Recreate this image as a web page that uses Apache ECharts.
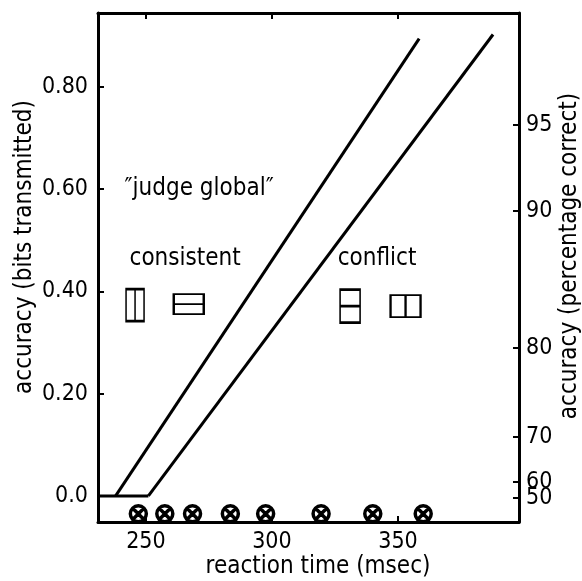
<!DOCTYPE html>
<html>
<head>
<meta charset="utf-8">
<title>judge global</title>
<script src="https://cdn.jsdelivr.net/npm/echarts@6/dist/echarts.min.js"></script>
<style>
  html, body { margin: 0; padding: 0; background: #fff; }
  #chart { width: 582px; height: 581px; }
</style>
</head>
<body>
<div id="chart"></div>
<script>
// reaction time (msec) against accuracy (bits transmitted)
const xTicks = [250, 300, 350]
const leftTickValues = [0, 0.2, 0.4, 0.6, 0.8]
const leftTickLabels = ['0.0', '0.20', '0.40', '0.60', '0.80']
// right axis: percentage correct, sitting at its bits value
const rightTickValues = [-0.004, 0.027, 0.115, 0.289, 0.557, 0.725]
const rightTickLabels = ['50', '60', '70', '80', '90', '95']

const floorLine = [[231, 0], [251, 0]]
const fastLine = [[238, 0], [358.4, 0.894]]
const slowLine = [[251, 0], [387.7, 0.902]]

// condition boxes: consistent (2), conflict (2)
const boxX = [245.7, 267.0, 331.0, 353.0]
const boxY = [0.373, 0.375, 0.371, 0.371]

const dotX = [247, 257.5, 268.5, 283.5, 297.5, 319.5, 340, 360]
const dotY = [-0.035, -0.035, -0.035, -0.035, -0.035, -0.035, -0.035, -0.035]

const noteX = [241.3, 243.3, 325.9]
const noteY = [0.600, 0.463, 0.463]
const noteText = ['\u2033judge global\u2033', 'consistent', 'conflict']

const X_MIN = 231
const X_MAX = 398
const Y_MIN = -0.051
const Y_MAX = 0.944

const FONT = 'DejaVu Sans Condensed'
const INK = '#000'

function boxSymbols() {
  return [
    { symbol: 'path://M0,0H18V32H0Z M9,0V32', size: [18, 32] },
    { symbol: 'path://M0,0H30V20H0Z M0,10H30', size: [30, 20] },
    { symbol: 'path://M0,0H20V33H0Z M0,16.5H20', size: [20, 33] },
    { symbol: 'path://M0,0H30V22H0Z M15,0V22', size: [30, 22] }
  ]
}

function labelFrom(values, labels) {
  return function(v) {
    const i = values.indexOf(v)
    return i >= 0 ? labels[i] : ''
  }
}

// 50 and 60 sit almost on top of each other; echarts drops one of the
// two end labels when they touch, so keep 50 away from the ends of the list
function rightLabelOrder() {
  const v = rightTickValues.slice()
  const first = v.shift()
  v.splice(2, 0, first)
  return v
}

function getOptions() {
  const shapes = boxSymbols()
  const tickLine = { show: true, inside: true, length: 6, lineStyle: { color: INK, width: 2 } }
  const axisLine = { show: true, onZero: false, lineStyle: { color: INK, width: 3 } }
  const tickText = {
    fontSize: 23,
    color: INK,
    fontFamily: FONT,
    hideOverlap: false
  }
  const titleFont = '24px "' + FONT + '"'
  return {
    animation: false,
    backgroundColor: '#fff',
    textStyle: { fontFamily: FONT, color: INK },
    grid: { left: 98, right: 63, top: 13, bottom: 59, containLabel: false, outerBoundsMode: 'none' },
    xAxis: [{
      type: 'value',
      min: X_MIN,
      max: X_MAX,
      position: 'bottom',
      axisLine: axisLine,
      axisTick: Object.assign({ customValues: xTicks }, tickLine),
      axisLabel: Object.assign({ customValues: xTicks, margin: 9 }, tickText),
      splitLine: { show: false }
    }, {
      type: 'value',
      min: X_MIN,
      max: X_MAX,
      position: 'top',
      axisLine: axisLine,
      axisTick: Object.assign({ customValues: xTicks }, tickLine),
      axisLabel: { show: false },
      splitLine: { show: false }
    }],
    yAxis: [{
      type: 'value',
      min: Y_MIN,
      max: Y_MAX,
      position: 'left',
      axisLine: axisLine,
      axisTick: Object.assign({ customValues: leftTickValues }, tickLine),
      axisLabel: Object.assign({
        customValues: leftTickValues,
        margin: 10,
        showMinLabel: true,
        showMaxLabel: true,
        formatter: labelFrom(leftTickValues, leftTickLabels)
      }, tickText),
      splitLine: { show: false }
    }, {
      type: 'value',
      min: Y_MIN,
      max: Y_MAX,
      position: 'right',
      axisLine: axisLine,
      axisTick: Object.assign({ customValues: rightTickValues }, tickLine),
      axisLabel: Object.assign({
        customValues: rightLabelOrder(),
        margin: 7,
        showMinLabel: true,
        showMaxLabel: true,
        formatter: labelFrom(rightTickValues, rightTickLabels)
      }, tickText),
      splitLine: { show: false }
    }],
    graphic: [
      {
        type: 'text',
        x: 25,
        y: 247,
        rotation: Math.PI / 2,
        style: { text: 'accuracy (bits transmitted)', font: titleFont, fill: INK, align: 'center', verticalAlign: 'middle' }
      },
      {
        type: 'text',
        x: 570,
        y: 256,
        rotation: Math.PI / 2,
        style: { text: 'accuracy (percentage correct)', font: titleFont, fill: INK, align: 'center', verticalAlign: 'middle' }
      },
      {
        type: 'text',
        x: 318,
        y: 567,
        style: { text: 'reaction time (msec)', font: titleFont, fill: INK, align: 'center', verticalAlign: 'middle' }
      }
    ],
    series: [
      {
        type: 'line',
        data: floorLine,
        symbol: 'none',
        lineStyle: { color: INK, width: 3 }
      },
      {
        type: 'line',
        data: fastLine,
        symbol: 'none',
        lineStyle: { color: INK, width: 3 }
      },
      {
        type: 'line',
        data: slowLine,
        symbol: 'none',
        lineStyle: { color: INK, width: 3 }
      },
      {
        type: 'scatter',
        data: boxX.map((x, i) => ({
          value: [x, boxY[i]],
          symbol: shapes[i].symbol,
          symbolSize: shapes[i].size
        })),
        itemStyle: { color: 'rgba(0,0,0,0)', borderColor: INK, borderWidth: 2, opacity: 1 }
      },
      {
        type: 'scatter',
        data: dotX.map((x, i) => [x, dotY[i]]),
        symbol: 'path://M20,10A10,10,0,1,1,0,10A10,10,0,1,1,20,10Z M3,3L17,17 M17,3L3,17',
        symbolSize: 16,
        itemStyle: { color: '#fff', borderColor: INK, borderWidth: 3.5, opacity: 1 },
        z: 5
      },
      {
        type: 'scatter',
        data: noteX.map((x, i) => [x, noteY[i], noteText[i]]),
        symbolSize: 1,
        itemStyle: { color: 'rgba(0,0,0,0)', opacity: 1 },
        label: {
          show: true,
          position: 'right',
          distance: 0,
          fontSize: 24,
          fontFamily: FONT,
          color: INK,
          opacity: 1,
          formatter: p => p.value[2]
        }
      }
    ]
  }
}

const chart = echarts.init(document.getElementById('chart'))
chart.setOption(getOptions())
</script>
</body>
</html>
